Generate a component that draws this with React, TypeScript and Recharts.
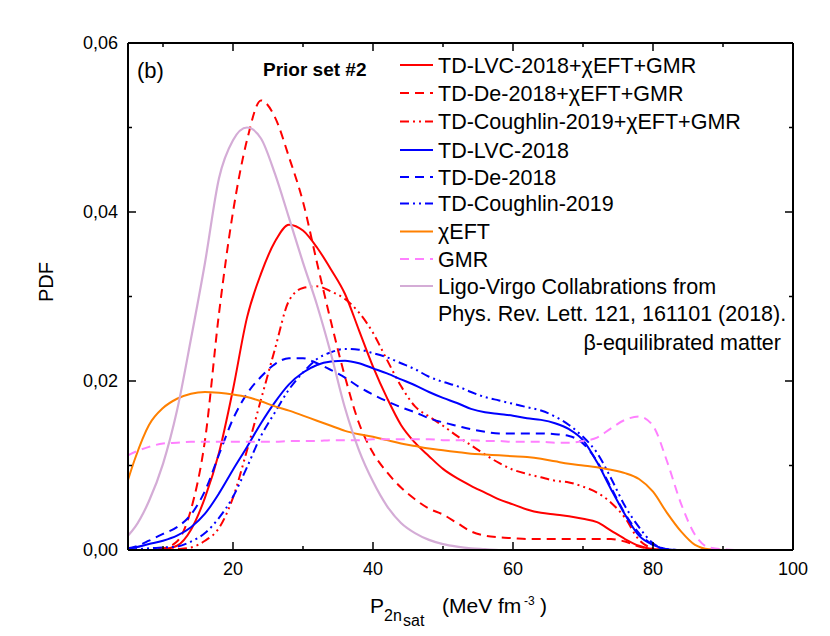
import { LineChart, Line, XAxis, YAxis, Legend } from 'recharts'

const FONT = '"Liberation Sans", Arial, Helvetica, sans-serif'

// x grid (MeV fm^-3) shared by all curves
const pressure = [5, 6, 8, 10, 12, 14, 16, 18, 20, 22, 24, 26, 28, 30, 32, 34, 36, 38, 40, 42, 44, 46, 48, 50, 52, 54, 56, 58, 60, 62, 64, 66, 68, 70, 72, 74, 76, 78, 80, 82, 84, 86, 88, 92, 96, 100]

const tdLvcChiGmr = [0, 0, 0, 0.0001, 0.0005, 0.0024, 0.0062, 0.0115, 0.019, 0.0275, 0.0327, 0.0365, 0.0385, 0.0378, 0.0358, 0.0332, 0.0303, 0.026, 0.0217, 0.018, 0.0148, 0.0127, 0.0111, 0.0096, 0.0085, 0.0076, 0.0068, 0.006, 0.0054, 0.0048, 0.0044, 0.0042, 0.004, 0.0037, 0.0033, 0.0023, 0.0013, 0.0005, 0.0001, 0, 0, 0, 0, 0, 0, 0]
const tdDeChiGmr = [0, 0, 0, 0.0002, 0.001, 0.0048, 0.013, 0.028, 0.04, 0.0485, 0.0532, 0.0512, 0.0465, 0.0412, 0.034, 0.027, 0.0205, 0.015, 0.0115, 0.0092, 0.0074, 0.006, 0.0049, 0.0042, 0.0032, 0.0022, 0.0017, 0.0015, 0.0014, 0.0013, 0.0013, 0.0013, 0.0013, 0.0013, 0.0013, 0.0013, 0.001, 0.0004, 0.0001, 0, 0, 0, 0, 0, 0, 0]
const tdCouChiGmr = [0, 0, 0, 0, 0.0001, 0.0003, 0.0011, 0.0026, 0.0062, 0.0118, 0.0178, 0.0238, 0.0295, 0.031, 0.0312, 0.0306, 0.0297, 0.0281, 0.0257, 0.0225, 0.0194, 0.017, 0.0158, 0.0147, 0.0135, 0.0124, 0.0113, 0.0103, 0.0095, 0.009, 0.0086, 0.0082, 0.008, 0.0075, 0.0068, 0.0056, 0.0038, 0.0012, 0.0002, 0, 0, 0, 0, 0, 0, 0]
const tdLvc = [0.0002, 0.0003, 0.0007, 0.0011, 0.0017, 0.0027, 0.0043, 0.0067, 0.0095, 0.0122, 0.015, 0.0175, 0.0196, 0.021, 0.0219, 0.0223, 0.0224, 0.0221, 0.0215, 0.0209, 0.0202, 0.0195, 0.0187, 0.018, 0.0174, 0.0167, 0.0163, 0.0161, 0.0159, 0.0156, 0.0154, 0.015, 0.0143, 0.013, 0.0104, 0.0072, 0.0042, 0.0017, 0.0006, 0.0001, 0, 0, 0, 0, 0, 0]
const tdDe = [0.0002, 0.0004, 0.0011, 0.0019, 0.0027, 0.0042, 0.007, 0.0113, 0.0155, 0.0185, 0.0205, 0.022, 0.0227, 0.0227, 0.0221, 0.0213, 0.0204, 0.0193, 0.0184, 0.0176, 0.0169, 0.0163, 0.0156, 0.0151, 0.0147, 0.0143, 0.014, 0.0138, 0.0138, 0.0138, 0.0138, 0.0137, 0.0135, 0.0126, 0.0105, 0.0074, 0.0043, 0.002, 0.0006, 0.0001, 0, 0, 0, 0, 0, 0]
const tdCou = [0.0001, 0.0001, 0.0002, 0.0003, 0.0004, 0.001, 0.002, 0.0038, 0.0063, 0.0098, 0.0135, 0.0163, 0.019, 0.021, 0.0226, 0.0234, 0.0238, 0.0237, 0.0233, 0.0228, 0.0221, 0.0214, 0.0205, 0.0199, 0.0194, 0.0187, 0.0181, 0.0177, 0.0173, 0.0169, 0.0165, 0.0158, 0.0148, 0.0134, 0.0115, 0.0085, 0.0052, 0.0027, 0.0008, 0.0001, 0, 0, 0, 0, 0, 0]
const chiEft = [0.0083, 0.0108, 0.0148, 0.0168, 0.0179, 0.0185, 0.0187, 0.0186, 0.0184, 0.0181, 0.0176, 0.017, 0.0165, 0.0159, 0.0153, 0.0147, 0.0141, 0.0137, 0.0134, 0.013, 0.0126, 0.0123, 0.012, 0.0118, 0.0116, 0.0114, 0.0113, 0.0112, 0.0111, 0.011, 0.0108, 0.0105, 0.0102, 0.01, 0.0098, 0.0095, 0.0091, 0.0084, 0.0069, 0.0044, 0.0022, 0.0006, 0.0001, 0, 0, 0]
const gmr = [0.0112, 0.0116, 0.0122, 0.0126, 0.0127, 0.0128, 0.0128, 0.0128, 0.0128, 0.0128, 0.0128, 0.0128, 0.0129, 0.0129, 0.0129, 0.013, 0.013, 0.013, 0.0131, 0.0131, 0.0131, 0.0131, 0.0131, 0.013, 0.013, 0.013, 0.0129, 0.0129, 0.0128, 0.0128, 0.0128, 0.0127, 0.0127, 0.0129, 0.0133, 0.0144, 0.0154, 0.0158, 0.0147, 0.0105, 0.0055, 0.0018, 0.0003, 0, 0, 0]
const ligoVirgo = [0.0017, 0.0027, 0.0058, 0.0102, 0.0165, 0.025, 0.034, 0.044, 0.0485, 0.05, 0.0487, 0.0445, 0.0393, 0.034, 0.029, 0.0232, 0.0168, 0.0118, 0.0081, 0.0052, 0.0032, 0.002, 0.0012, 0.0007, 0.0004, 0.0002, 0.0001, 0, 0, 0, 0, 0, 0, 0, 0, 0, 0, 0, 0, 0, 0, 0, 0, 0, 0, 0]

const xTicks = [10, 20, 30, 40, 50, 60, 70, 80, 90, 100]
const yTicks = [0, 0.01, 0.02, 0.03, 0.04, 0.05, 0.06]

const series = [
  { key: 'tdLvcChiGmr', values: tdLvcChiGmr, name: 'TD-LVC-2018+χEFT+GMR', color: '#ff0000', dash: undefined, width: 2 },
  { key: 'tdDeChiGmr', values: tdDeChiGmr, name: 'TD-De-2018+χEFT+GMR', color: '#ff0000', dash: '9 6', width: 2 },
  { key: 'tdCouChiGmr', values: tdCouChiGmr, name: 'TD-Coughlin-2019+χEFT+GMR', color: '#ff0000', dash: '9 4 2 4 2 4', width: 2 },
  { key: 'tdLvc', values: tdLvc, name: 'TD-LVC-2018', color: '#0000ff', dash: undefined, width: 2 },
  { key: 'tdDe', values: tdDe, name: 'TD-De-2018', color: '#0000ff', dash: '9 6', width: 2 },
  { key: 'tdCou', values: tdCou, name: 'TD-Coughlin-2019', color: '#0000ff', dash: '9 4 2 4 2 4', width: 2 },
  { key: 'chiEft', values: chiEft, name: 'χEFT', color: '#ff8000', dash: undefined, width: 2 },
  { key: 'gmr', values: gmr, name: 'GMR', color: '#ff80ff', dash: '9 6', width: 2 },
  { key: 'ligoVirgo', values: ligoVirgo, name: 'Ligo-Virgo Collabrations from', color: '#d4acd6', dash: undefined, width: 2.2 },
]

const data = pressure.map((x, i) => {
  const row: Record<string, number> = { x }
  series.forEach((s) => { row[s.key] = s.values[i] })
  return row
})

const isMajorX = (v: number) => v % 20 === 0
const isMajorY = (v: number) => Math.round(v * 100) % 2 === 0

function BottomTick({ x, y, payload }: any) {
  const v = payload.value
  const major = isMajorX(v)
  return (
    <g>
      <line x1={x} x2={x} y1={y} y2={y - (major ? 8 : 4)} stroke='#000' strokeWidth={1.5} />
      {major && (
        <text x={x} y={y + 25} textAnchor='middle' fontSize={18} fontFamily={FONT} fill='#000'>{v}</text>
      )}
    </g>
  )
}

function TopTick({ x, y, payload }: any) {
  const major = isMajorX(payload.value)
  return <line x1={x} x2={x} y1={y} y2={y + (major ? 8 : 4)} stroke='#000' strokeWidth={1.5} />
}

function LeftTick({ x, y, payload }: any) {
  const v = payload.value
  const major = isMajorY(v)
  return (
    <g>
      <line x1={x} x2={x + (major ? 8 : 4)} y1={y} y2={y} stroke='#000' strokeWidth={1.5} />
      {major && (
        <text x={x - 10} y={y + 6} textAnchor='end' fontSize={18} fontFamily={FONT} fill='#000'>
          {v.toFixed(2).replace('.', ',')}
        </text>
      )}
    </g>
  )
}

function RightTick({ x, y, payload }: any) {
  const major = isMajorY(payload.value)
  return <line x1={x} x2={x - (major ? 8 : 4)} y1={y} y2={y} stroke='#000' strokeWidth={1.5} />
}

// legend + annotations, drawn in page coordinates
const rowY = [65, 93, 121.5, 150, 177, 203.5, 231.5, 259, 286]

function Overlay() {
  return (
    <svg width={822} height={620} viewBox='8 8 822 620' style={{ position: 'absolute', left: 0, top: 0, overflow: 'visible' }}>
      <g fontFamily={FONT} fill='#000'>
        <text x={137} y={78} fontSize={22}>(b)</text>
        <text x={263} y={76} fontSize={19} fontWeight='bold'>Prior set #2</text>
        {series.map((s, i) => (
          <g key={s.key}>
            <line x1={400} x2={433} y1={rowY[i]} y2={rowY[i]} stroke={s.color} strokeWidth={s.width} strokeDasharray={s.dash} />
            <text x={438} y={rowY[i] + 7.5} fontSize={21.5}>{s.name}</text>
          </g>
        ))}
        <text x={438} y={320.5} fontSize={21.5}>Phys. Rev. Lett. 121, 161101 (2018).</text>
        <text x={781} y={350} fontSize={21.5} textAnchor='end'>β-equilibrated matter</text>
        <text x={0} y={0} fontSize={20} textAnchor='middle' transform='translate(53 282) rotate(-90)'>PDF</text>
        <text y={613} fontSize={21}>
          <tspan x={370}>P</tspan>
          <tspan x={384} y={621} fontSize={16}>2n</tspan>
          <tspan x={403} y={626} fontSize={16}>sat</tspan>
          <tspan x={442} y={613}>(MeV fm</tspan>
          <tspan x={524} y={605} fontSize={12}>-3</tspan>
          <tspan x={540} y={613}>)</tspan>
        </text>
      </g>
    </svg>
  )
}

export default function App() {
  return (
    <div style={{ width: 822, height: 620, position: 'relative' }}>
      <LineChart width={822} height={620} data={data} margin={{ top: 25, right: 27, bottom: 18, left: 0 }}>
        <XAxis xAxisId='bottom' type='number' dataKey='x' domain={[5, 100]} ticks={xTicks} interval={0}
          tick={(p: any) => <BottomTick {...p} />} tickLine={false} tickSize={0} tickMargin={0}
          axisLine={{ stroke: '#000', strokeWidth: 2 }} height={60} allowDataOverflow />
        <XAxis xAxisId='top' orientation='top' type='number' dataKey='x' domain={[5, 100]} ticks={xTicks} interval={0}
          tick={(p: any) => <TopTick {...p} />} tickLine={false} tickSize={0} tickMargin={0}
          axisLine={{ stroke: '#000', strokeWidth: 2 }} height={10} allowDataOverflow />
        <YAxis yAxisId='left' type='number' domain={[0, 0.06]} ticks={yTicks} interval={0}
          tick={(p: any) => <LeftTick {...p} />} tickLine={false} tickSize={0} tickMargin={0}
          axisLine={{ stroke: '#000', strokeWidth: 2 }} width={120} allowDataOverflow />
        <YAxis yAxisId='right' orientation='right' type='number' domain={[0, 0.06]} ticks={yTicks} interval={0}
          tick={(p: any) => <RightTick {...p} />} tickLine={false} tickSize={0} tickMargin={0}
          axisLine={{ stroke: '#000', strokeWidth: 2 }} width={10} allowDataOverflow />
        {series.map((s) => (
          <Line key={s.key} xAxisId='bottom' yAxisId='left' type='monotone' dataKey={s.key} name={s.name}
            stroke={s.color} strokeWidth={s.width} strokeDasharray={s.dash} dot={false} activeDot={false}
            isAnimationActive={false} />
        ))}
        <Legend layout='vertical' align='center' verticalAlign='middle' content={() => <Overlay />}
          wrapperStyle={{ position: 'absolute', left: 0, top: 0, width: 822, height: 620, pointerEvents: 'none' }} />
      </LineChart>
    </div>
  )
}
